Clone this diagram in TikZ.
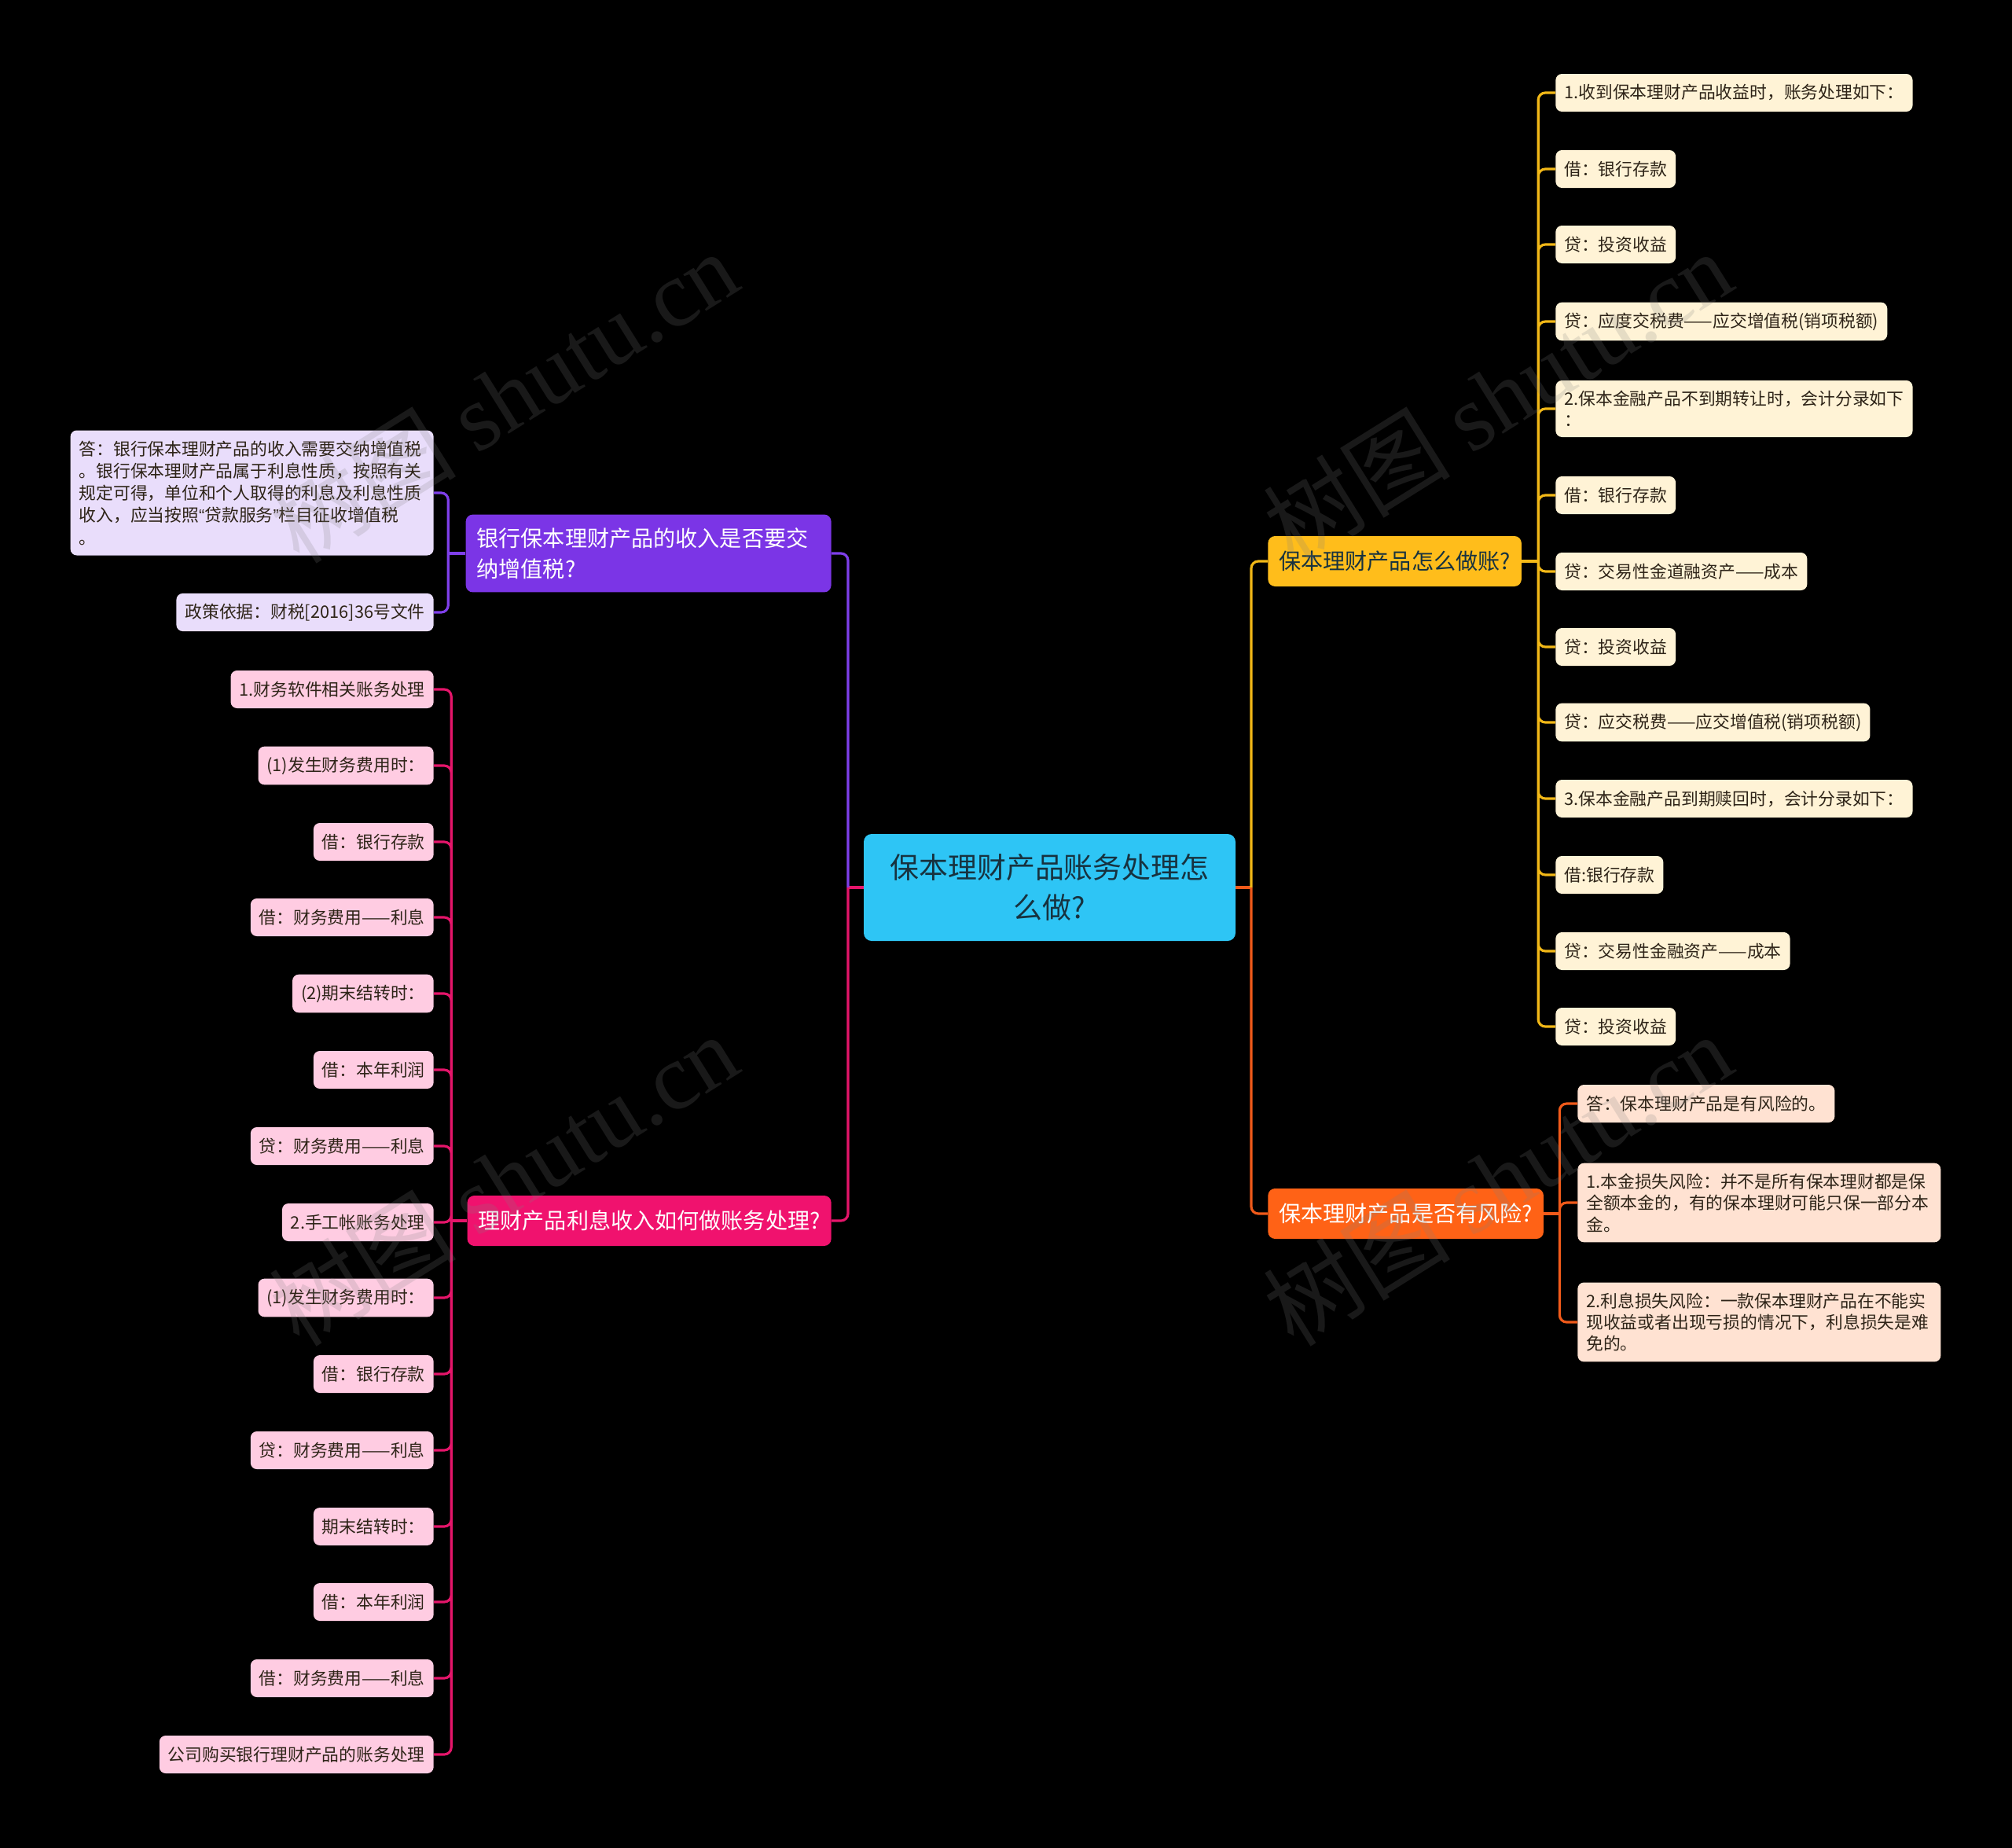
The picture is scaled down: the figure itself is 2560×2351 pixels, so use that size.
\documentclass[tikz,border=0pt]{standalone}
\usepackage{fontspec}
\setmainfont{Noto Sans CJK SC}
\newfontfamily\wmfont{Liberation Serif}
\newfontfamily\quotefont{Liberation Sans}
\usetikzlibrary{calc}

\definecolor{rootfill}{HTML}{2EC5F5}
\definecolor{roottext}{HTML}{17323F}
\definecolor{purplemain}{HTML}{7B35E6}
\definecolor{pinkmain}{HTML}{F0126E}
\definecolor{yellowmain}{HTML}{FFBD1B}
\definecolor{orangemain}{HTML}{FF6216}
\definecolor{purpleleaf}{HTML}{E9DDFB}
\definecolor{pinkleaf}{HTML}{FFCCE2}
\definecolor{yellowleaf}{HTML}{FFF3D6}
\definecolor{orangeleaf}{HTML}{FFE2D2}
\definecolor{leaftext}{HTML}{2E2418}
\definecolor{purpleline}{HTML}{7F3FEA}
\definecolor{pinkline}{HTML}{E5156A}
\definecolor{yellowline}{HTML}{F2B817}
\definecolor{orangeline}{HTML}{F05A1A}

\begin{document}
\begin{tikzpicture}[x=0.2mm, y=-0.2mm,
  root/.style={fill=rootfill, text=roottext, rounded corners=2mm, align=center,
    minimum width=94.6mm, minimum height=27.2mm, font=\fontsize{21}{29.5}\selectfont},
  branch/.style={rounded corners=1.8mm, inner xsep=2.8mm, inner ysep=3.4mm,
    minimum height=12.8mm, align=left, font=\fontsize{16}{22}\selectfont},
  leaf/.style={rounded corners=1.6mm, inner xsep=2.2mm, inner ysep=2.6mm, text=leaftext,
    minimum height=9.6mm, align=left, font=\fontsize{12.4}{15.6}\selectfont},
  yleaf/.style={leaf, fill=yellowleaf, anchor=west},
  oleaf/.style={leaf, fill=orangeleaf, anchor=west},
  pleaf/.style={leaf, fill=purpleleaf, anchor=east},
  mleaf/.style={leaf, fill=pinkleaf, anchor=east},
  link/.style={line width=1.8pt},
  curvelink/.style={line width=1.8pt, rounded corners=1.8mm},
  watermark/.style={text=gray, opacity=0.2, rotate=32, font=\fontsize{68}{68}\selectfont},
]
  % background
  \fill[black] (0,0) rectangle (2560,2351);
  \useasboundingbox (0,0) rectangle (2560,2351);

  % central topic
  \node[root] (root) at (1335.5,1129) {保本理财产品账务处理怎\\么做?};

  % main branches
  \node[branch, fill=purplemain, text=white, anchor=east, text width=87.4mm] (pq) at (1058,704)
    {银行保本理财产品的收入是否要交\\纳增值税?};
  \node[branch, fill=pinkmain, text=white, anchor=east] (pm) at (1058,1553) {理财产品利息收入如何做账务处理?};
  \node[branch, fill=yellowmain, text=roottext, anchor=west] (ym) at (1613,714) {保本理财产品怎么做账?};
  \node[branch, fill=orangemain, text=white, anchor=west] (om) at (1613,1544) {保本理财产品是否有风险?};

  % junctions
  \coordinate (lj) at (1079,1129);
  \coordinate (rj) at (1592,1129);
  \coordinate (pj) at ($(pq.west)+(-22,0)$);
  \coordinate (mj) at ($(pm.west)+(-20,0)$);
  \coordinate (yj) at ($(ym.east)+(21,0)$);
  \coordinate (oj) at ($(om.east)+(20,0)$);

  % root to branches
  \draw[link, pinkline] (root.west) -- (lj);
  \draw[link, orangeline] (root.east) -- (rj);
  \draw[curvelink, purpleline] (lj) |- (pq.east);
  \draw[curvelink, pinkline] (lj) |- (pm.east);
  \draw[curvelink, yellowline] (rj) |- (ym.west);
  \draw[curvelink, orangeline] (rj) |- (om.west);

  % yellow leaves
  \node[yleaf] (y1) at (1979,118) {1.收到保本理财产品收益时，账务处理如下：};
  \node[yleaf] (y2) at (1979,215) {借：银行存款};
  \node[yleaf] (y3) at (1979,311) {贷：投资收益};
  \node[yleaf] (y4) at (1979,409) {贷：应度交税费——应交增值税(销项税额)};
  \node[yleaf] (y5) at (1979,520) {2.保本金融产品不到期转让时，会计分录如下\\：};
  \node[yleaf] (y6) at (1979,630) {借：银行存款};
  \node[yleaf] (y7) at (1979,727) {贷：交易性金道融资产——成本};
  \node[yleaf] (y8) at (1979,823) {贷：投资收益};
  \node[yleaf] (y9) at (1979,919) {贷：应交税费——应交增值税(销项税额)};
  \node[yleaf] (y10) at (1979,1016) {3.保本金融产品到期赎回时，会计分录如下：};
  \node[yleaf] (y11) at (1979,1113) {借:银行存款};
  \node[yleaf] (y12) at (1979,1210) {贷：交易性金融资产——成本};
  \node[yleaf] (y13) at (1979,1306) {贷：投资收益};
  \draw[link, yellowline] (ym.east) -- (yj);
  \draw[curvelink, yellowline] (yj) |- (y1.west) (yj) |- (y2.west) (yj) |- (y3.west) (yj) |- (y4.west)
    (yj) |- (y5.west) (yj) |- (y6.west) (yj) |- (y7.west) (yj) |- (y8.west) (yj) |- (y9.west)
    (yj) |- (y10.west) (yj) |- (y11.west) (yj) |- (y12.west) (yj) |- (y13.west);

  % orange leaves
  \node[oleaf] (o1) at (2007,1404) {答：保本理财产品是有风险的。};
  \node[oleaf, text width=88mm] (o2) at (2007,1530)
    {1.本金损失风险：并不是所有保本理财都是保\\全额本金的，有的保本理财可能只保一部分本\\金。};
  \node[oleaf, text width=88mm] (o3) at (2007,1682)
    {2.利息损失风险：一款保本理财产品在不能实\\现收益或者出现亏损的情况下，利息损失是难\\免的。};
  \draw[link, orangeline] (om.east) -- (oj);
  \draw[curvelink, orangeline] (oj) |- (o1.west) (oj) |- (o2.west) (oj) |- (o3.west);

  % purple leaves
  \node[pleaf, text width=88mm, font=\fontsize{12.4}{16.1}\selectfont] (p1) at (552,627)
    {答：银行保本理财产品的收入需要交纳增值税\\。银行保本理财产品属于利息性质，按照有关\\规定可得，单位和个人取得的利息及利息性质\\收入，应当按照{\quotefont “}贷款服务{\quotefont ”}栏目征收增值税\\。};
  \node[pleaf] (p2) at (552,779) {政策依据：财税[2016]36号文件};
  \draw[link, purpleline] (pq.west) -- (pj);
  \draw[curvelink, purpleline] (pj) |- (p1.east) (pj) |- (p2.east);

  % pink leaves
  \node[mleaf] (m1) at (552,877) {1.财务软件相关账务处理};
  \node[mleaf] (m2) at (552,974) {(1)发生财务费用时：};
  \node[mleaf] (m3) at (552,1071) {借：银行存款};
  \node[mleaf] (m4) at (552,1167) {借：财务费用——利息};
  \node[mleaf] (m5) at (552,1264) {(2)期末结转时：};
  \node[mleaf] (m6) at (552,1361) {借：本年利润};
  \node[mleaf] (m7) at (552,1458) {贷：财务费用——利息};
  \node[mleaf] (m8) at (552,1555) {2.手工帐账务处理};
  \node[mleaf] (m9) at (552,1651) {(1)发生财务费用时：};
  \node[mleaf] (m10) at (552,1748) {借：银行存款};
  \node[mleaf] (m11) at (552,1845) {贷：财务费用——利息};
  \node[mleaf] (m12) at (552,1942) {期末结转时：};
  \node[mleaf] (m13) at (552,2038) {借：本年利润};
  \node[mleaf] (m14) at (552,2135) {借：财务费用——利息};
  \node[mleaf] (m15) at (552,2232) {公司购买银行理财产品的账务处理};
  \draw[link, pinkline] (pm.west) -- (mj);
  \draw[curvelink, pinkline] (mj) |- (m1.east) (mj) |- (m2.east) (mj) |- (m3.east) (mj) |- (m4.east)
    (mj) |- (m5.east) (mj) |- (m6.east) (mj) |- (m7.east) (mj) |- (m8.east) (mj) |- (m9.east)
    (mj) |- (m10.east) (mj) |- (m11.east) (mj) |- (m12.east) (mj) |- (m13.east) (mj) |- (m14.east)
    (mj) |- (m15.east);

  % watermarks
  \node[watermark] (wm1) at (640,504) {树图 {\wmfont shutu.cn}};
  \node[watermark] (wm2) at (1905,504) {树图 {\wmfont shutu.cn}};
  \node[watermark] (wm3) at (640,1500) {树图 {\wmfont shutu.cn}};
  \node[watermark] (wm4) at (1905,1500) {树图 {\wmfont shutu.cn}};
\end{tikzpicture}
\end{document}
